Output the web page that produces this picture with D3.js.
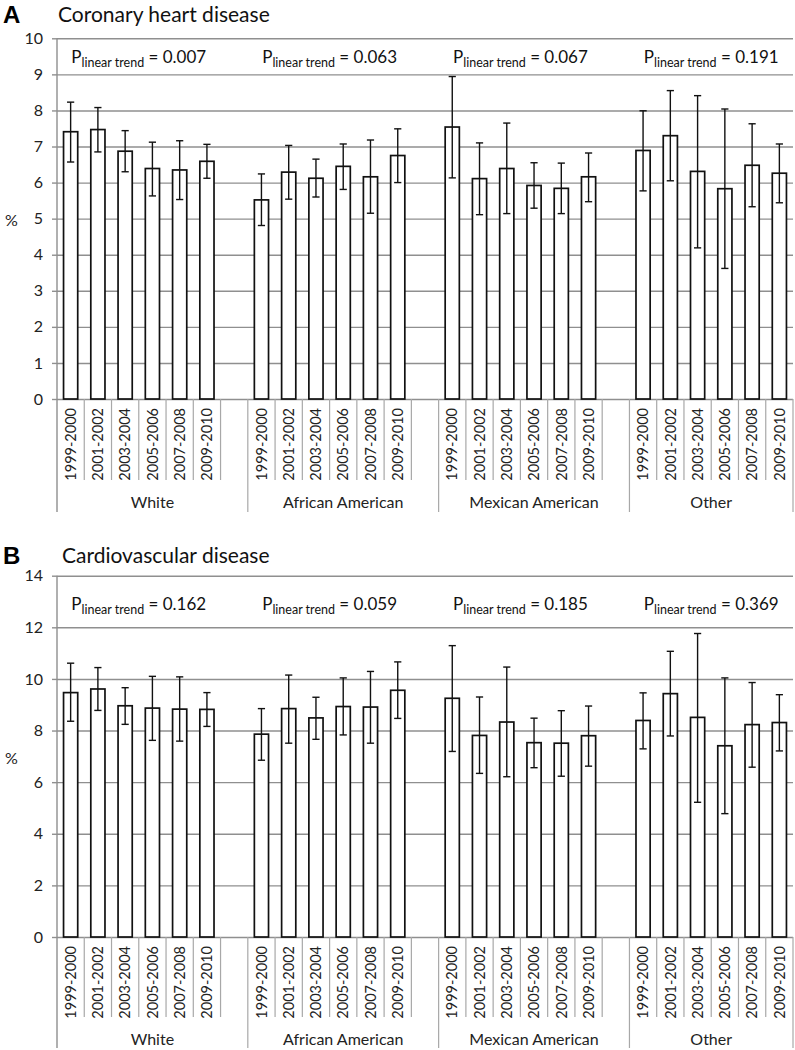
<!DOCTYPE html>
<html>
<head>
<meta charset="utf-8">
<script src="https://cdn.jsdelivr.net/npm/d3@7"></script>
<style>
  body { margin: 0; background: #fff; }
  svg { display: block; font-family: Lato, "Open Sans", sans-serif; }
</style>
</head>
<body>
<svg width="795" height="1050"></svg>
<script>
var groups = ["White", "African American", "Mexican American", "Other"];
var periods = ["1999-2000", "2001-2002", "2003-2004", "2005-2006", "2007-2008", "2009-2010"];

// panel A: coronary heart disease (%), group order, 6 periods each
var chdMean = [7.41, 7.47, 6.87, 6.39, 6.35, 6.59,
               5.52, 6.29, 6.12, 6.45, 6.16, 6.75,
               7.54, 6.11, 6.39, 5.92, 5.84, 6.16,
               6.89, 7.30, 6.31, 5.83, 6.48, 6.26];
var chdLow  = [6.57, 6.85, 6.30, 5.63, 5.53, 6.12,
               4.81, 5.54, 5.60, 5.81, 5.15, 6.00,
               6.13, 5.11, 5.14, 5.29, 5.14, 5.47,
               5.77, 6.05, 4.19, 3.62, 5.33, 5.44];
var chdHigh = [8.23, 8.08, 7.44, 7.12, 7.16, 7.06,
               6.24, 7.03, 6.65, 7.07, 7.18, 7.49,
               8.94, 7.10, 7.65, 6.55, 6.54, 6.82,
               7.99, 8.55, 8.41, 8.04, 7.63, 7.07];
var chdP = ["0.007", "0.063", "0.067", "0.191"];

// panel B: cardiovascular disease (%)
var cvdMean = [9.47, 9.61, 8.96, 8.87, 8.83, 8.82,
               7.86, 8.85, 8.49, 8.93, 8.91, 9.56,
               9.25, 7.81, 8.33, 7.53, 7.51, 7.80,
               8.39, 9.43, 8.51, 7.41, 8.23, 8.31];
var cvdLow  = [8.36, 8.78, 8.24, 7.62, 7.59, 8.16,
               6.85, 7.51, 7.66, 7.83, 7.51, 8.47,
               7.19, 6.34, 6.21, 6.56, 6.23, 6.62,
               7.29, 7.79, 5.22, 4.78, 6.58, 7.21];
var cvdHigh = [10.61, 10.44, 9.66, 10.10, 10.08, 9.47,
               8.85, 10.15, 9.29, 10.04, 10.29, 10.66,
               11.29, 9.30, 10.46, 8.48, 8.77, 8.95,
               9.46, 11.07, 11.76, 10.04, 9.86, 9.39];
var cvdP = ["0.162", "0.059", "0.185", "0.369"];

var chdTicks = d3.range(0, 11, 1);
var cvdTicks = d3.range(0, 15, 2);

var svg = d3.select("svg");
var left = 57, right = 793;
var gridColor = "#8f8f8f";

// category slots: 6 periods per group + an empty slot between groups
var slots = [];
groups.forEach(function(g, gi) {
  periods.forEach(function(p) { slots.push(g + "|" + p); });
  if (gi < groups.length - 1) slots.push(g + "|gap");
});

var x = d3.scaleBand().domain(slots).range([left, right]).padding(0);
var barW = x.bandwidth() * 0.52;

function drawPanel(cfg) {
  var g = svg.append("g");
  var y = d3.scaleLinear().domain([0, cfg.max]).range([cfg.bottom, cfg.top]);

  var rows = [];
  groups.forEach(function(grp, gi) {
    periods.forEach(function(p, pi) {
      var i = gi * 6 + pi;
      rows.push({ key: grp + "|" + p, group: grp, period: p,
                  v: cfg.mean[i], lo: cfg.low[i], hi: cfg.high[i] });
    });
  });

  // panel letter and title
  g.append("text").attr("x", 3).attr("y", cfg.titleY + 1)
    .attr("font-family", "Liberation Sans, Arial, sans-serif")
    .attr("font-weight", "bold").attr("font-size", 24).text(cfg.letter);
  g.append("text").attr("x", cfg.titleX).attr("y", cfg.titleY)
    .attr("font-size", 21).attr("fill", "#111").text(cfg.title);

  // gridlines and y labels
  var axis = g.append("g").attr("transform", "translate(" + left + ",0)")
    .call(d3.axisLeft(y).tickValues(cfg.ticks).tickSize(-(right - left)).tickPadding(14));
  axis.select(".domain").remove();
  axis.selectAll(".tick line").attr("stroke", gridColor).attr("stroke-width", 1.4);
  axis.selectAll(".tick").append("line").attr("x1", -5).attr("x2", 0)
    .attr("stroke", gridColor).attr("stroke-width", 1.4);
  axis.selectAll(".tick text").attr("font-size", 16).attr("fill", "#222")
    .attr("font-family", "Lato, sans-serif");

  g.append("text").attr("x", 5).attr("y", cfg.pctY).attr("font-size", 16)
    .attr("fill", "#222").text("%");

  // left axis line and category separators
  g.append("line").attr("x1", left).attr("x2", left)
    .attr("y1", cfg.top).attr("y2", cfg.groupLineEnd)
    .attr("stroke", gridColor).attr("stroke-width", 1.4);

  var bounds = slots.map(function(s) { return { s: s, x: x(s) + x.bandwidth() }; });
  g.selectAll(".sep").data(bounds).enter().append("line")
    .attr("x1", function(d) { return d.x; }).attr("x2", function(d) { return d.x; })
    .attr("y1", cfg.bottom)
    .attr("y2", function(d, i) {
      var isGroupEnd = /\|gap$/.test(d.s) || i === bounds.length - 1;
      return isGroupEnd ? cfg.groupLineEnd : cfg.slotLineEnd;
    })
    .attr("stroke", "#a8a8a8").attr("stroke-width", 1.2);

  // rotated period labels
  g.selectAll(".plab").data(rows).enter().append("text")
    .attr("transform", function(d) {
      return "translate(" + (x(d.key) + x.bandwidth() / 2) + "," + (cfg.bottom + 9) + ") rotate(-90)";
    })
    .attr("text-anchor", "end").attr("dy", "0.36em")
    .attr("font-size", 14.5).attr("fill", "#222")
    .text(function(d) { return d.period; });

  // group labels
  groups.forEach(function(grp, gi) {
    var x0 = x(grp + "|" + periods[0]);
    var last = gi < groups.length - 1 ? grp + "|gap" : grp + "|" + periods[5];
    var x1 = x(last) + x.bandwidth();
    g.append("text").attr("x", (x0 + x1) / 2).attr("y", cfg.groupLabelY)
      .attr("text-anchor", "middle").attr("font-size", 16).attr("fill", "#222").text(grp);

    // P linear trend annotation centred over the group's bars
    var cx = (x0 + x(grp + "|" + periods[5]) + x.bandwidth()) / 2;
    var t = g.append("text").attr("x", cx).attr("y", cfg.pY)
      .attr("text-anchor", "middle").attr("fill", "#111").attr("font-size", 17);
    t.append("tspan").text("P");
    t.append("tspan").attr("font-size", 12.5).attr("dy", 4).text("linear trend");
    t.append("tspan").attr("dy", -4).text(" = " + cfg.p[gi]);
  });

  // bars
  g.selectAll(".bar").data(rows).enter().append("rect")
    .attr("x", function(d) { return x(d.key) + (x.bandwidth() - barW) / 2; })
    .attr("y", function(d) { return y(d.v); })
    .attr("width", barW)
    .attr("height", function(d) { return y(0) - y(d.v); })
    .attr("fill", "#fff").attr("stroke", "#111").attr("stroke-width", 1.7);

  // error bars
  var eb = g.selectAll(".err").data(rows).enter().append("g")
    .attr("stroke", "#111").attr("stroke-width", 1.4);
  var cxOf = function(d) { return x(d.key) + x.bandwidth() / 2; };
  eb.append("line").attr("x1", cxOf).attr("x2", cxOf)
    .attr("y1", function(d) { return y(d.lo); }).attr("y2", function(d) { return y(d.hi); });
  eb.append("line").attr("x1", function(d) { return cxOf(d) - 3.6; })
    .attr("x2", function(d) { return cxOf(d) + 3.6; })
    .attr("y1", function(d) { return y(d.hi); }).attr("y2", function(d) { return y(d.hi); });
  eb.append("line").attr("x1", function(d) { return cxOf(d) - 3.6; })
    .attr("x2", function(d) { return cxOf(d) + 3.6; })
    .attr("y1", function(d) { return y(d.lo); }).attr("y2", function(d) { return y(d.lo); });
}

drawPanel({
  letter: "A", title: "Coronary heart disease", titleX: 58, titleY: 22,
  mean: chdMean, low: chdLow, high: chdHigh, p: chdP,
  max: 10, ticks: chdTicks, top: 38.3, bottom: 399,
  pY: 63, pctY: 226, slotLineEnd: 480, groupLineEnd: 512, groupLabelY: 508
});

drawPanel({
  letter: "B", title: "Cardiovascular disease", titleX: 62, titleY: 563,
  mean: cvdMean, low: cvdLow, high: cvdHigh, p: cvdP,
  max: 14, ticks: cvdTicks, top: 575.7, bottom: 937,
  pY: 610, pctY: 764, slotLineEnd: 1017, groupLineEnd: 1048, groupLabelY: 1045
});
</script>
</body>
</html>
